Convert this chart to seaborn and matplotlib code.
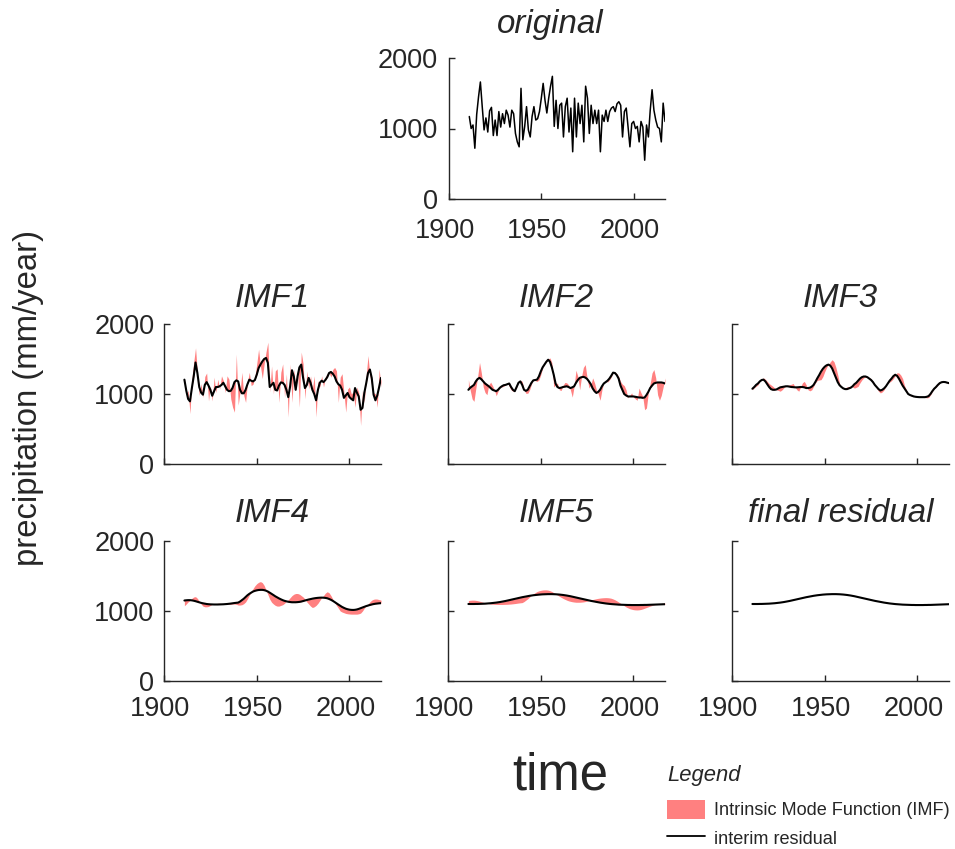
import numpy as np
import matplotlib
matplotlib.use("Agg")
import matplotlib.pyplot as plt
import matplotlib.transforms as mtransforms
import seaborn as sns
from matplotlib.patches import Patch
from matplotlib.lines import Line2D

sns.set_theme(style="ticks")
plt.rcParams['font.family'] = ['Liberation Sans', 'DejaVu Sans']

# annual precipitation (mm/year) and the interim residuals of the EMD
years = np.arange(1911, 2018)

original = [1170, 1000, 1050, 720, 1200, 1450, 1660, 1310, 980, 1150,
            950, 1250, 1300, 900, 1120, 900, 1240, 1020, 1210, 1070,
            1260, 1190, 1020, 1260, 1210, 930, 810, 740, 1570, 840,
            1030, 1310, 980, 880, 1170, 1310, 1120, 1140, 1240, 1430,
            1640, 1400, 1220, 1430, 1600, 1740, 1030, 1400, 1000, 1330,
            1360, 880, 1310, 1430, 950, 1290, 670, 1430, 880, 1360,
            1070, 1330, 810, 1600, 1430, 930, 1330, 1070, 1260, 1070,
            1260, 670, 1190, 1100, 1260, 1100, 1240, 1290, 1310, 1240,
            1350, 1380, 1330, 880, 1240, 1290, 1020, 740, 1070, 1100,
            1000, 1030, 810, 1100, 1020, 550, 1050, 880, 1260, 1550,
            1260, 1120, 1020, 1000, 810, 1360, 1100]

res1 = [1205, 1050, 930, 895, 1080, 1250, 1450, 1300, 1100, 1020,
        990, 1130, 1170, 1120, 1060, 975, 1040, 1100, 1100, 1110,
        1130, 1160, 1110, 1060, 1040, 1045, 1090, 1170, 1195, 1180,
        1060, 1010, 1010, 1060, 1140, 1205, 1190, 1180, 1200, 1275,
        1370, 1420, 1465, 1500, 1515, 1445, 1100, 1130, 1160, 1060,
        1050, 1120, 1165, 1160, 1130, 1060, 955, 1110, 1340, 1250,
        1060, 1250, 1380, 1420, 1230, 1085, 1130, 1230, 1160, 1060,
        1000, 910, 1060, 1160, 1190, 1170, 1200, 1240, 1300, 1315,
        1290, 1250, 1180, 1140, 1120, 1060, 945, 980, 1015, 955,
        930, 910, 1085, 1020, 965, 775, 800, 1015, 1150, 1300,
        1350, 1230, 990, 910, 980, 1100, 1230]

res2 = [1060, 1090, 1110, 1130, 1180, 1215, 1230, 1210, 1180, 1150,
        1130, 1110, 1085, 1060, 1050, 1040, 1060, 1090, 1110, 1125,
        1130, 1140, 1150, 1100, 1060, 1040, 1100, 1160, 1180, 1130,
        1060, 1045, 1060, 1110, 1160, 1195, 1200, 1205, 1250, 1320,
        1380, 1420, 1460, 1490, 1460, 1380, 1275, 1150, 1100, 1085,
        1090, 1100, 1105, 1110, 1100, 1085, 1095, 1110, 1160, 1200,
        1230, 1240, 1245, 1235, 1215, 1180, 1140, 1080, 1040, 1015,
        1030, 1060, 1110, 1150, 1170, 1190, 1220, 1260, 1305, 1300,
        1270, 1220, 1120, 1060, 1000, 980, 965, 965, 965, 965,
        960, 955, 950, 950, 945, 950, 985, 1030, 1085, 1120,
        1150, 1160, 1165, 1165, 1165, 1160, 1150]

res3 = [1075, 1100, 1130, 1150, 1180, 1200, 1205, 1180, 1140, 1100,
        1070, 1060, 1060, 1065, 1080, 1095, 1100, 1105, 1110, 1110,
        1105, 1100, 1098, 1095, 1095, 1097, 1100, 1100, 1095, 1085,
        1085, 1090, 1105, 1130, 1175, 1225, 1270, 1320, 1360, 1390,
        1410, 1420, 1405, 1365, 1300, 1235, 1170, 1125, 1100, 1080,
        1070, 1070, 1080, 1090, 1110, 1140, 1160, 1190, 1220, 1240,
        1250, 1250, 1240, 1220, 1200, 1170, 1130, 1100, 1070, 1050,
        1060, 1080, 1110, 1150, 1190, 1220, 1255, 1275, 1260, 1220,
        1170, 1120, 1080, 1040, 1000, 985, 975, 965, 960, 957,
        955, 955, 955, 955, 960, 970, 1000, 1040, 1075, 1100,
        1130, 1155, 1168, 1172, 1170, 1162, 1155]

res4 = [1150, 1153, 1155, 1155, 1152, 1147, 1140, 1132, 1124, 1116,
        1110, 1105, 1100, 1097, 1095, 1094, 1093, 1093, 1093, 1094,
        1095, 1096, 1098, 1100, 1103, 1106, 1110, 1114, 1117, 1120,
        1135, 1155, 1175, 1200, 1225, 1245, 1262, 1278, 1288, 1295,
        1300, 1302, 1302, 1298, 1290, 1278, 1262, 1245, 1228, 1210,
        1195, 1180, 1167, 1155, 1145, 1138, 1132, 1128, 1125, 1125,
        1125, 1127, 1130, 1135, 1142, 1150, 1157, 1164, 1170, 1176,
        1181, 1185, 1188, 1190, 1191, 1190, 1187, 1182, 1172, 1160,
        1145, 1128, 1110, 1092, 1075, 1058, 1045, 1033, 1025, 1019,
        1016, 1015, 1017, 1022, 1030, 1040, 1050, 1060, 1070, 1078,
        1086, 1093, 1099, 1104, 1107, 1110, 1112]

res5 = [1100, 1100, 1100, 1100, 1101, 1101, 1102, 1103, 1104, 1105,
        1107, 1109, 1111, 1114, 1117, 1120, 1124, 1128, 1133, 1138,
        1143, 1149, 1155, 1161, 1167, 1173, 1179, 1185, 1191, 1197,
        1202, 1207, 1212, 1217, 1221, 1225, 1228, 1231, 1234, 1236,
        1238, 1239, 1240, 1241, 1241, 1241, 1240, 1239, 1237, 1235,
        1232, 1229, 1225, 1221, 1216, 1211, 1205, 1199, 1193, 1187,
        1181, 1175, 1169, 1163, 1157, 1151, 1145, 1140, 1135, 1130,
        1125, 1120, 1116, 1112, 1108, 1105, 1102, 1099, 1097, 1095,
        1093, 1091, 1090, 1089, 1088, 1087, 1086, 1086, 1085, 1085,
        1085, 1085, 1085, 1086, 1086, 1087, 1087, 1088, 1089, 1090,
        1091, 1092, 1093, 1094, 1095, 1096, 1097]

panel_titles = ["IMF1", "IMF2", "IMF3", "IMF4", "IMF5", "final residual"]
residuals = [original, res1, res2, res3, res4, res5]

RED = "#ff8080"
INK = "#262626"
W, H = 955, 849


def box(left, top, w, h):
    return [left / W, 1 - (top + h) / H, w / W, h / H]


def style(ax, show_x, show_y, xpad=11, ypad=7):
    ax.set_xlim(1900, 2017)
    ax.set_ylim(0, 2000)
    ax.set_xticks([1900, 1950, 2000])
    ax.set_yticks([0, 1000, 2000])
    ax.tick_params(direction="in", length=4, width=1, colors=INK,
                   labelsize=19.5, labelcolor=INK)
    ax.tick_params(axis="x", pad=xpad, labelbottom=show_x)
    ax.tick_params(axis="y", pad=ypad, labelleft=show_y)
    # matlab-ish labels sit a few pixels left of their ticks
    shift = mtransforms.ScaledTranslation(-4 / 100, 0, fig.dpi_scale_trans)
    for lab in ax.get_xticklabels():
        lab.set_transform(lab.get_transform() + shift)
    sns.despine(ax=ax)
    for s in ["left", "bottom"]:
        ax.spines[s].set_color(INK)
        ax.spines[s].set_linewidth(1.0)
    ax.set_xlabel("")
    ax.set_ylabel("")


fig = plt.figure(figsize=(9.55, 8.49), dpi=100)

# top panel: the raw series
ax0 = fig.add_axes(box(449, 58, 216, 141))
sns.lineplot(x=years, y=original, ax=ax0, color="black", linewidth=1.1)
style(ax0, True, True, xpad=14, ypad=8)
fig.text(550 / W, 1 - 33 / H, "original", style="italic",
         fontsize=23.8, ha="center", va="baseline")

col_left = [164, 448, 732]
row_top = [324, 541]
title_base = [307, 522]

for i, title in enumerate(panel_titles):
    r, c = divmod(i, 3)
    ax = fig.add_axes(box(col_left[c], row_top[r], 217, 140))
    if i < 5:
        # IMF i+1 = previous residual minus the new one
        ax.fill_between(years, residuals[i], residuals[i + 1],
                        color=RED, linewidth=0)
        line = residuals[i + 1]
    else:
        line = residuals[5]
    sns.lineplot(x=years, y=line, ax=ax, color="black", linewidth=1.5)
    style(ax, r == 1, c == 0)
    fig.text((col_left[c] + 108.5) / W, 1 - title_base[r] / H, title,
             style="italic", fontsize=23.8, ha="center", va="baseline")

fig.text(560 / W, 1 - 789 / H, "time", fontsize=36.6, ha="center",
         va="baseline")
fig.text(29 / W, 1 - 398 / H, "precipitation (mm/year)", fontsize=23.7,
         rotation=90, ha="center", va="center")

fig.text(667 / W, 1 - 781 / H, "Legend", style="italic", fontsize=15.8,
         ha="left", va="baseline")
handles = [Patch(facecolor=RED, edgecolor="none"),
           Line2D([], [], color="black", linewidth=1.3)]
fig.legend(handles, ["Intrinsic Mode Function (IMF)", "interim residual"],
           loc="upper left", bbox_to_anchor=(667 / W, 1 - 800 / H),
           frameon=False, fontsize=13.1, handlelength=2.1,
           handleheight=1.2, handletextpad=0.5, borderaxespad=0,
           borderpad=0, labelspacing=0.5)

fig.savefig("out.png", dpi=100)
